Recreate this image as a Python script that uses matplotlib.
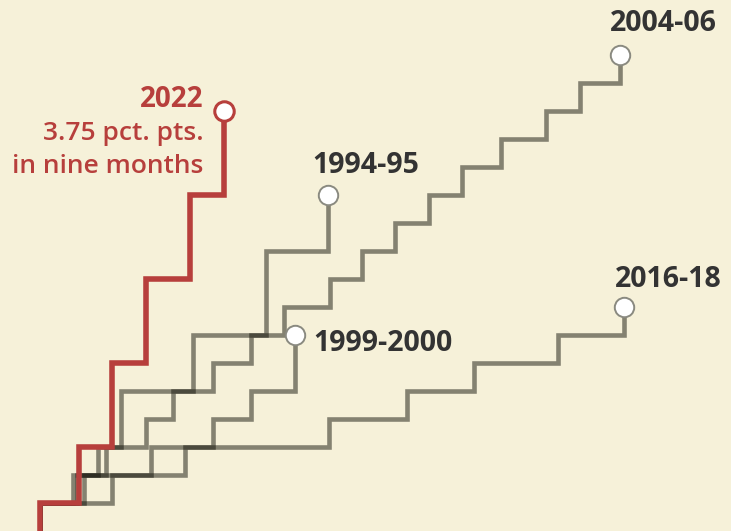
import matplotlib
matplotlib.use("Agg")
import matplotlib.pyplot as plt

# Months since the first hike, and cumulative increase (pct. pts.)
m_1994 = [0, 1.51, 2.40, 3.35, 6.34, 9.33, 11.89]
v_1994 = [0.25, 0.5, 0.75, 1.25, 1.75, 2.5, 3.0]

m_1999 = [0, 1.81, 4.57, 7.13, 8.71, 10.55]
v_1999 = [0.25, 0.5, 0.75, 1.0, 1.25, 1.75]

m_2004 = [0, 1.35, 2.73, 4.37, 5.49, 7.13, 8.71, 10.09, 11.99, 13.30,
          14.68, 16.06, 17.44, 19.05, 20.89, 22.31, 23.95]
v_2004 = [0.25, 0.5, 0.75, 1.0, 1.25, 1.5, 1.75, 2.0, 2.25, 2.5,
          2.75, 3.0, 3.25, 3.5, 3.75, 4.0, 4.25]

m_2016 = [0, 2.99, 5.98, 11.96, 15.18, 17.94, 21.39, 24.15]
v_2016 = [0.25, 0.5, 0.75, 1.0, 1.25, 1.5, 1.75, 2.0]

m_2022 = [0, 1.61, 2.99, 4.37, 6.21, 7.59]
v_2022 = [0.25, 0.75, 1.5, 2.25, 3.0, 3.75]

gray_series = [("1994-95", m_1994, v_1994),
               ("1999-2000", m_1999, v_1999),
               ("2004-06", m_2004, v_2004),
               ("2016-18", m_2016, v_2016)]

BG = "#f6f1d9"
RED = "#b73f3c"
GRAY = "#14140a"
TXT = "#333333"
FONT = "Open Sans"

fig = plt.figure(figsize=(7.31, 5.31), dpi=100, facecolor=BG)
ax = fig.add_axes([0, 0, 1, 1])
ax.set_facecolor(BG)
ax.set_axis_off()

PX_MONTH = 24.2
PX_PCT = 112.0
ax.set_xlim(-40 / PX_MONTH, (731 - 40) / PX_MONTH)
ax.set_ylim(0, 531 / PX_PCT)

def stepline(months, vals, **kw):
    xs = [months[0]] + list(months)
    ys = [0.0] + list(vals)
    return ax.plot(xs, ys, drawstyle="steps-post", solid_joinstyle="miter",
                   solid_capstyle="butt", **kw)

for name, m, v in gray_series:
    stepline(m, v, color=GRAY, alpha=0.5, lw=3.3, zorder=2)

stepline(m_2022, v_2022, color=RED, lw=4.0, zorder=3)

for name, m, v in gray_series:
    ax.plot(m[-1], v[-1], "o", ms=14, mfc="white", mec="#8a8a80",
            mew=1.4, zorder=5)
ax.plot(m_2022[-1], v_2022[-1], "o", ms=14, mfc="white", mec=RED,
        mew=2.2, zorder=6)

# labels for gray series (offsets in pixels from the end marker)
label_offsets = {
    "1994-95": (-15, 22, "left", "baseline"),
    "1999-2000": (18, -16, "left", "baseline"),
    "2004-06": (-10, 24, "left", "baseline"),
    "2016-18": (-10, 20, "left", "baseline"),
}
for name, m, v in gray_series:
    dx, dy, ha, va = label_offsets[name]
    ax.annotate(name, (m[-1], v[-1]), xytext=(dx, dy),
                textcoords="offset pixels", ha=ha, va=va,
                fontsize=20.5, fontweight="bold", color=TXT,
                family=FONT, zorder=7)

ax.annotate("2022", (m_2022[-1], v_2022[-1]), xytext=(-20, 4),
            textcoords="offset pixels", ha="right", va="baseline",
            fontsize=20, fontweight="bold", color=RED, family=FONT)
ax.annotate("3.75 pct. pts.", (m_2022[-1], v_2022[-1]), xytext=(-20, -29),
            textcoords="offset pixels", ha="right", va="baseline",
            fontsize=19, fontweight="semibold", color=RED, family=FONT)
ax.annotate("in nine months", (m_2022[-1], v_2022[-1]), xytext=(-20, -62),
            textcoords="offset pixels", ha="right", va="baseline",
            fontsize=19, fontweight="semibold", color=RED, family=FONT)

fig.savefig("out.png", dpi=100, facecolor=BG)
